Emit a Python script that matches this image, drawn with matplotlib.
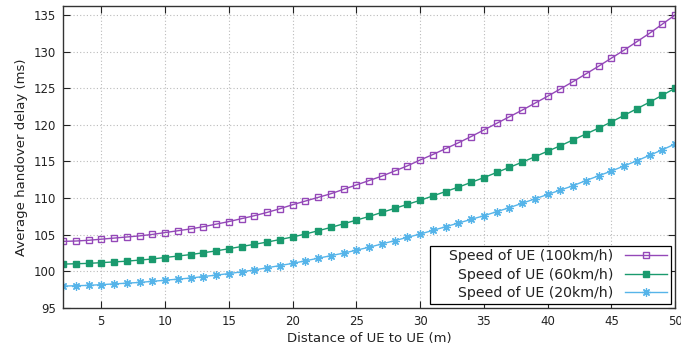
import matplotlib
matplotlib.use("Agg")
import matplotlib.pyplot as plt
from matplotlib.patches import Rectangle

# distance of UE to UE (m)
dist = list(range(2, 51))

# average handover delay (ms)
v100 = [104.1, 104.15, 104.25, 104.4, 104.55, 104.7, 104.85, 105.05, 105.3, 105.55,
        105.8, 106.1, 106.45, 106.8, 107.2, 107.6, 108.05, 108.55, 109.1, 109.6,
        110.1, 110.6, 111.2, 111.8, 112.4, 113.0, 113.7, 114.4, 115.2, 115.95,
        116.75, 117.55, 118.4, 119.3, 120.2, 121.1, 122.0, 122.95, 123.9, 124.9,
        125.9, 126.95, 128.0, 129.1, 130.2, 131.35, 132.5, 133.75, 135.0]
v60 = [101.0, 101.05, 101.1, 101.2, 101.3, 101.4, 101.55, 101.7, 101.9, 102.1,
       102.3, 102.55, 102.8, 103.1, 103.4, 103.7, 104.0, 104.35, 104.7, 105.1,
       105.55, 106.0, 106.5, 107.0, 107.5, 108.05, 108.6, 109.15, 109.7, 110.3,
       110.9, 111.5, 112.15, 112.8, 113.5, 114.2, 114.9, 115.65, 116.4, 117.15,
       117.95, 118.75, 119.55, 120.4, 121.3, 122.2, 123.1, 124.05, 125.0]
v20 = [98.0, 98.05, 98.1, 98.2, 98.3, 98.4, 98.5, 98.65, 98.8, 98.95,
       99.1, 99.3, 99.5, 99.7, 99.95, 100.2, 100.5, 100.8, 101.1, 101.45,
       101.8, 102.15, 102.5, 102.9, 103.3, 103.75, 104.2, 104.65, 105.1, 105.6,
       106.1, 106.6, 107.1, 107.6, 108.15, 108.7, 109.3, 109.9, 110.5, 111.1,
       111.7, 112.4, 113.05, 113.7, 114.4, 115.1, 115.85, 116.6, 117.4]

labels = ["Speed of UE (100km/h)", "Speed of UE (60km/h)", "Speed of UE (20km/h)"]
xticks = [5, 10, 15, 20, 25, 30, 35, 40, 45, 50]
yticks = [95, 100, 105, 110, 115, 120, 125, 130, 135]

plt.rcParams["font.family"] = ["DejaVu Sans"]
fig = plt.figure(figsize=(6.81, 3.57), dpi=100)
ax = fig.add_axes([0.0925, 0.137, 0.899, 0.846])

ax.plot(dist, v100, color="#9448b8", lw=1.0, marker="s", ms=4.5, mfc="none",
        mec="#9448b8", mew=1.0, label=labels[0])
ax.plot(dist, v60, color="#1a9a6e", lw=1.0, marker="s", ms=4.5, mfc="#1a9a6e",
        mec="#1a9a6e", label=labels[1])
ax.plot(dist, v20, color="#56b4e9", lw=1.0, marker=(8, 2, 0), ms=6,
        mec="#56b4e9", mew=0.9, label=labels[2])

ax.set_xlim(2, 50)
ax.set_ylim(95, 136.2)
ax.set_xticks(xticks)
ax.set_yticks(yticks)
ax.tick_params(direction="in", length=5, width=0.8, top=True, right=True,
               labelsize=8.5, colors="#222222", pad=5)
ax.grid(True, color="#bbbbbb", ls=(0, (1, 2)), lw=0.8)
for s in ax.spines.values():
    s.set_color("#333333")
    s.set_linewidth(1.0)

ax.set_xlabel("Distance of UE to UE (m)", fontsize=9.5, color="#222222", labelpad=3)
ax.set_ylabel("Average handover delay (ms)", fontsize=9.5, color="#222222", labelpad=4)

# markerfirst=False gives right-aligned rows, gnuplot style
leg = ax.legend(loc="lower right", markerfirst=False, fontsize=10.2, frameon=False,
                borderaxespad=0.3, handlelength=3.0, labelspacing=0.32,
                borderpad=0.25, handletextpad=0.8)
for t in leg.get_texts():
    t.set_color("#222222")

# gnuplot's key box is wider on the left than matplotlib's frame
fig.canvas.draw()
bb = leg.get_window_extent()
W, H = fig.bbox.width, fig.bbox.height
extra = 16
box = Rectangle(((bb.x0 - extra) / W, bb.y0 / H), (bb.width + extra) / W, bb.height / H,
                transform=fig.transFigure, fill=True, facecolor="white",
                edgecolor="black", lw=0.9, zorder=4.9)
fig.patches.append(box)
leg.set_zorder(5)
# keep the box under the legend but above the lines
box.set_figure(fig)
ax.add_artist(box)
fig.patches.remove(box)

fig.savefig("out.png", dpi=100)
